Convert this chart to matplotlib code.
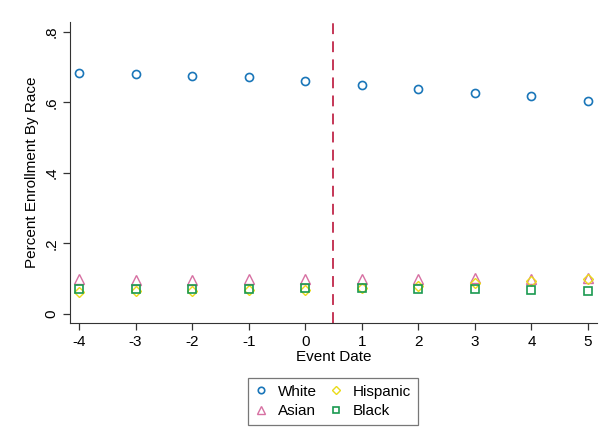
import numpy as np
import matplotlib
matplotlib.use("Agg")
import matplotlib.pyplot as plt

plt.rcParams['font.family'] = ['Liberation Sans', 'DejaVu Sans']

# data
event_date = [-4, -3, -2, -1, 0, 1, 2, 3, 4, 5]
white = [0.684, 0.681, 0.675, 0.671, 0.661, 0.650, 0.638, 0.627, 0.618, 0.604]
asian = [0.098, 0.097, 0.097, 0.098, 0.099, 0.099, 0.099, 0.101, 0.100, 0.103]
hispanic = [0.063, 0.064, 0.064, 0.068, 0.069, 0.074, 0.078, 0.089, 0.094, 0.098]
black = [0.070, 0.070, 0.070, 0.072, 0.073, 0.073, 0.072, 0.071, 0.068, 0.066]

fig = plt.figure(figsize=(6.07, 4.46), dpi=100)
ax = fig.add_axes([0.1153, 0.2758, 0.8682, 0.6749])

ms = 5.8
ax.plot(event_date, white, 'o', ms=ms, mfc='none', mec='#1a76b9', mew=1.2, label='White')
ax.plot(event_date, asian, '^', ms=ms + 1, mfc='none', mec='#d770a2', mew=1.0, label='Asian')
ax.plot(event_date, hispanic, 'D', ms=ms - 1, mfc='none', mec='#eadb1a', mew=1.0, label='Hispanic')
ax.plot(event_date, black, 's', ms=ms, mfc='none', mec='#1a9a50', mew=1.2, label='Black')

ax.axvline(0.5, color='#c0284a', lw=1.3, dashes=(6, 4))

ax.set_xlim(-4.16, 5.16)
ax.set_ylim(-0.0255, 0.828)
ax.set_xticks(event_date)
ax.set_xticklabels([str(v) for v in event_date], fontsize=11)
yt = [0, 0.2, 0.4, 0.6, 0.8]
ax.set_yticks(yt)
ax.set_yticklabels(['0', '.2', '.4', '.6', '.8'], fontsize=11, rotation=90, va='center')
ax.tick_params(length=5, width=0.9, color='#333333')
for s in ['top', 'right']:
    ax.spines[s].set_visible(False)
for s in ['left', 'bottom']:
    ax.spines[s].set_color('#333333')
ax.set_xlabel('Event Date', fontsize=11, labelpad=1)
ax.set_ylabel('Percent Enrollment By Race', fontsize=11, labelpad=4)

leg = fig.legend(handles=ax.get_lines()[:4], ncol=2, loc='center',
                 bbox_to_anchor=(333 / 607, 1 - 401.5 / 446), fontsize=11,
                 fancybox=False, edgecolor='#555555', handlelength=0.8,
                 handletextpad=0.7, columnspacing=0.9, labelspacing=0.35,
                 borderpad=0.45, markerscale=0.8)
leg.get_frame().set_linewidth(0.9)

fig.savefig('out.png', dpi=100)
